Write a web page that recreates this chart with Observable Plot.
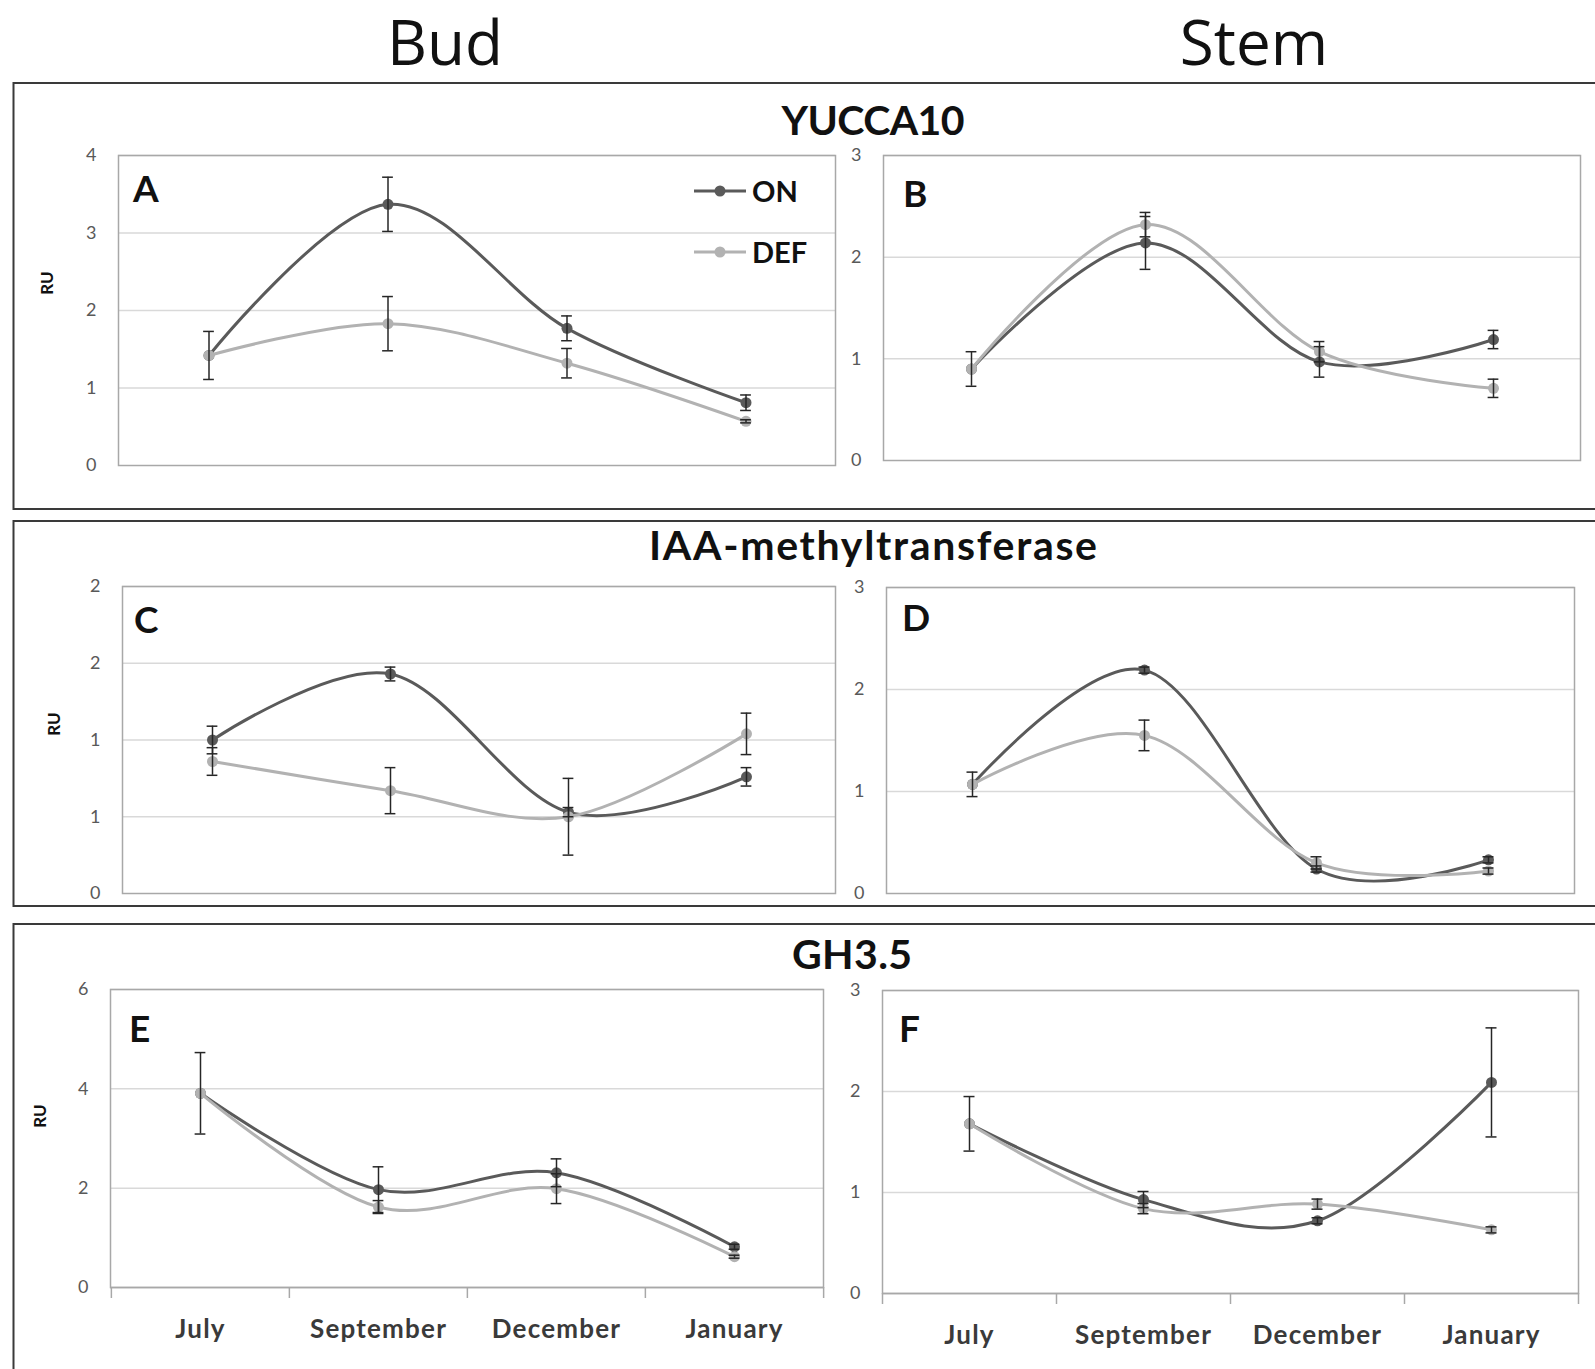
<!DOCTYPE html>
<html><head><meta charset="utf-8">
<script src="https://cdn.jsdelivr.net/npm/d3@7"></script>
<script src="https://cdn.jsdelivr.net/npm/@observablehq/plot@0.6"></script>
<style>
html,body{margin:0;padding:0;background:#fff;}
#page{position:relative;width:1595px;height:1369px;overflow:hidden;background:#fff;font-family:Lato,"Open Sans",sans-serif;}
.panel{position:absolute;}
#overlay{position:absolute;left:0;top:0;z-index:2;pointer-events:none;}
.panel g[aria-label^="x-axis"] text{font-weight:bold;font-size:26px;letter-spacing:1.2px;fill:#3a3a3a;}
</style></head><body><div id="page"></div>
<script>
// ---- data ----
const months = ["July", "September", "December", "January"];
const seriesNames = ["ON", "DEF"];
const genes = ["YUCCA10", "IAA-methyltransferase", "GH3.5"];
const tissues = ["Bud", "Stem"];
const panelLetters = ["A", "B", "C", "D", "E", "F"];

// YUCCA10 – Bud (A)
const A_ON = [1.42, 3.37, 1.77, 0.81];
const A_ON_ERR = [0.31, 0.35, 0.16, 0.10];
const A_DEF = [1.42, 1.83, 1.32, 0.57];
const A_DEF_ERR = [0, 0.35, 0.19, 0.02];
// YUCCA10 – Stem (B)
const B_ON = [0.90, 2.14, 0.97, 1.19];
const B_ON_ERR = [0.17, 0.26, 0.15, 0.09];
const B_DEF = [0.90, 2.32, 1.07, 0.71];
const B_DEF_ERR = [0, 0.12, 0.10, 0.09];
// IAA-methyltransferase – Bud (C)
const C_ON = [1.00, 1.43, 0.53, 0.76];
const C_ON_ERR = [0.09, 0.045, 0.03, 0.06];
const C_DEF = [0.86, 0.67, 0.50, 1.04];
const C_DEF_ERR = [0.09, 0.15, 0.25, 0.135];
// IAA-methyltransferase – Stem (D)
const D_ON = [1.07, 2.19, 0.24, 0.33];
const D_ON_ERR = [0.12, 0.03, 0.03, 0.03];
const D_DEF = [1.07, 1.55, 0.30, 0.22];
const D_DEF_ERR = [0, 0.15, 0.06, 0.03];
// GH3.5 – Bud (E)
const E_ON = [3.91, 1.97, 2.31, 0.82];
const E_ON_ERR = [0.82, 0.46, 0.28, 0.05];
const E_DEF = [3.91, 1.62, 1.99, 0.62];
const E_DEF_ERR = [0, 0.13, 0.30, 0.03];
// GH3.5 – Stem (F)
const F_ON = [1.68, 0.93, 0.72, 2.09];
const F_ON_ERR = [0.27, 0.08, 0.03, 0.54];
const F_DEF = [1.68, 0.84, 0.885, 0.63];
const F_DEF_ERR = [0, 0.05, 0.05, 0.03];

const yMax = [4, 3, 2, 3, 6, 3];
const yStep = [1, 1, 0.5, 1, 2, 1];

// ---- layout / style ----
const ON_COLOR = "#5a5a5a";
const DEF_COLOR = "#b2b2b2";
const ERR_COLOR = "#262626";
const frames = [
  {L:118, T:155, R:835, B:465},
  {L:883, T:155, R:1580, B:460},
  {L:122, T:586, R:835, B:893},
  {L:886, T:587, R:1574, B:893},
  {L:110, T:989, R:823, B:1287},
  {L:882, T:990, R:1578, B:1293}
];
const seriesByPanel = [
  [A_ON, A_ON_ERR, A_DEF, A_DEF_ERR],
  [B_ON, B_ON_ERR, B_DEF, B_DEF_ERR],
  [C_ON, C_ON_ERR, C_DEF, C_DEF_ERR],
  [D_ON, D_ON_ERR, D_DEF, D_DEF_ERR],
  [E_ON, E_ON_ERR, E_DEF, E_DEF_ERR],
  [F_ON, F_ON_ERR, F_DEF, F_DEF_ERR]
];

const page = document.getElementById("page");
const curve = d3.curveCatmullRom.alpha(0);

seriesByPanel.forEach((s, p) => {
  const f = frames[p];
  const showX = p >= 4;
  const ml = 60, mt = 14, mr = 14, mb = showX ? 75 : 14;
  const fw = f.R - f.L, fh = f.B - f.T;
  const bw = fw / months.length;
  const cap = 11;
  const rows = [];
  months.forEach((m, i) => {
    rows.push({month: m, series: "ON", v: s[0][i], e: s[1][i]});
    rows.push({month: m, series: "DEF", v: s[2][i], e: s[3][i]});
  });
  const on = rows.filter(d => d.series === "ON");
  const def = rows.filter(d => d.series === "DEF");
  const err = rows.filter(d => d.e > 0);
  const ticks = d3.range(0, yMax[p] + 1e-9, yStep[p]);
  const marks = [
    Plot.ruleY(ticks.filter(t => t > 0), {y: d => d, stroke: "#d9d9d9", strokeWidth: 1.5}),
    Plot.frame({stroke: "#a8a8a8", strokeWidth: 1.5})
  ];
  if (showX) {
    marks.push(Plot.ruleY([0], {y: d => d, stroke: "#a8a8a8", strokeWidth: 1.5}));
    marks.push(Plot.ruleX(months, {x: d => d, dx: -bw / 2, insetTop: fh, insetBottom: -11, stroke: "#a8a8a8", strokeWidth: 1.5}));
    marks.push(Plot.ruleX(months.slice(-1), {x: d => d, dx: bw / 2, insetTop: fh, insetBottom: -11, stroke: "#a8a8a8", strokeWidth: 1.5}));
  }
  marks.push(
    Plot.line(on, {x: "month", y: "v", stroke: ON_COLOR, strokeWidth: 3, curve}),
    Plot.dot(on, {x: "month", y: "v", fill: ON_COLOR, r: 5.5}),
    Plot.line(def, {x: "month", y: "v", stroke: DEF_COLOR, strokeWidth: 3, curve}),
    Plot.dot(def, {x: "month", y: "v", fill: DEF_COLOR, r: 5.5}),
    Plot.ruleX(err, {x: "month", y1: d => d.v - d.e, y2: d => d.v + d.e, stroke: ERR_COLOR, strokeWidth: 1.5}),
    Plot.tickY(err, {x: "month", y: d => d.v + d.e, insetLeft: (bw - cap) / 2, insetRight: (bw - cap) / 2, stroke: ERR_COLOR, strokeWidth: 1.5}),
    Plot.tickY(err, {x: "month", y: d => d.v - d.e, insetLeft: (bw - cap) / 2, insetRight: (bw - cap) / 2, stroke: ERR_COLOR, strokeWidth: 1.5})
  );
  const chart = Plot.plot({
    width: fw + ml + mr,
    height: fh + mt + mb,
    marginLeft: ml, marginRight: mr, marginTop: mt, marginBottom: mb,
    style: {background: "transparent", fontFamily: "Lato, sans-serif", fontSize: "18px", color: "#595959", overflow: "visible", maxWidth: "none"},
    x: {type: "band", domain: months, padding: 0, axis: showX ? "bottom" : null, tickSize: 0, tickPadding: 32.5, label: null},
    y: {domain: [0, yMax[p]], ticks, tickSize: 0, tickPadding: 22, label: null,
        tickFormat: d => String(Math.round(d))},
    marks
  });
  chart.classList.add("panel");
  chart.style.left = (f.L - ml) + "px";
  chart.style.top = (f.T - mt) + "px";
  page.appendChild(chart);
});

// ---- overlay: headers, boxes, titles, letters, legend ----
const NS = "http://www.w3.org/2000/svg";
const ov = document.createElementNS(NS, "svg");
ov.setAttribute("id", "overlay");
ov.setAttribute("width", 1595);
ov.setAttribute("height", 1369);
page.appendChild(ov);
function el(tag, attrs, text) {
  const e = document.createElementNS(NS, tag);
  for (const k in attrs) e.setAttribute(k, attrs[k]);
  if (text != null) e.textContent = text;
  ov.appendChild(e);
  return e;
}
// boxes
[[83, 426], [521, 385], [924, 500]].forEach(([y, h]) =>
  el("rect", {x: 13.5, y, width: 1620, height: h, fill: "none", stroke: "#3a3a3a", "stroke-width": 2}));
// column headers
[[445, tissues[0]], [1254, tissues[1]]].forEach(([x, t]) =>
  el("text", {x, y: 65, "text-anchor": "middle", "font-family": "'Open Sans', sans-serif", "font-size": 62, fill: "#111"}, t));
// gene titles
[[873, 135, genes[0], 183], [873, 560, genes[1], 448], [852, 969, genes[2], 120]].forEach(([x, y, t, w]) =>
  el("text", {x, y, "text-anchor": "middle", textLength: w, lengthAdjust: "spacing", "font-family": "Lato, sans-serif", "font-weight": "bold", "font-size": 41, fill: "#111"}, t));
// panel letters
const letterPos = [[133, 202], [903, 207], [134, 633], [902, 631], [129, 1042], [899, 1042]];
letterPos.forEach(([x, y], i) =>
  el("text", {x, y, "font-family": "Lato, sans-serif", "font-weight": "bold", "font-size": 37, fill: "#111"}, panelLetters[i]));
// RU labels
[[46, 283], [53, 724], [39, 1116]].forEach(([x, y]) =>
  el("text", {x, y, transform: `rotate(-90 ${x} ${y})`, "text-anchor": "middle", "dominant-baseline": "central", "font-family": "Lato, sans-serif", "font-weight": "bold", "font-size": 17, fill: "#111"}, "RU"));
// legend
[[191, ON_COLOR, seriesNames[0]], [252, DEF_COLOR, seriesNames[1]]].forEach(([y, c, t]) => {
  el("line", {x1: 694, x2: 746, y1: y, y2: y, stroke: c, "stroke-width": 3});
  el("circle", {cx: 720, cy: y, r: 5.5, fill: c});
  el("text", {x: 752, y: y + 10.5, "font-family": "Lato, sans-serif", "font-weight": "bold", "font-size": 29, fill: "#111"}, t);
});
</script></body></html>
